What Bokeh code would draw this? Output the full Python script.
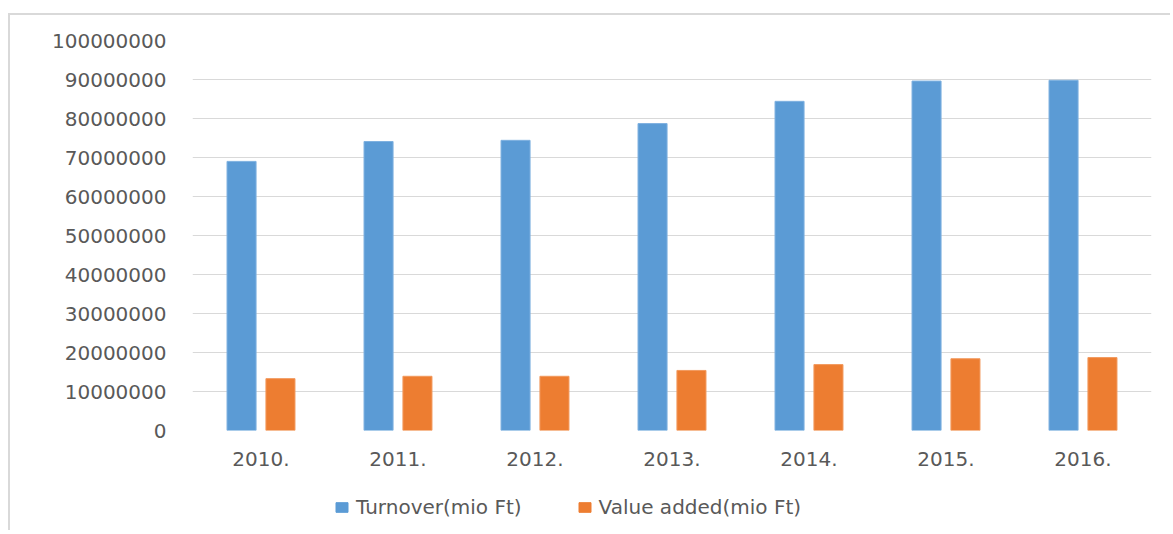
from bokeh.plotting import figure
from bokeh.layouts import column
from bokeh.models import FactorRange, Range1d, FixedTicker, NumeralTickFormatter, Legend, LegendItem, ColumnDataSource
from bokeh.transform import dodge
from bokeh.embed import file_html
from bokeh.resources import INLINE

years = ["2010.", "2011.", "2012.", "2013.", "2014.", "2015.", "2016."]
turnover = [69000000, 74100000, 74400000, 78700000, 84400000, 89600000, 89800000]
value_added = [13300000, 13900000, 13900000, 15400000, 16900000, 18400000, 18700000]
y_ticks = [0, 10000000, 20000000, 30000000, 40000000, 50000000, 60000000, 70000000, 80000000, 90000000, 100000000]
series_names = ["Turnover(mio Ft)", "Value added(mio Ft)"]

src = ColumnDataSource(data=dict(years=years, turnover=turnover, value_added=value_added))

TEXT = "#595959"
FONT = "DejaVu Sans"
BLUE = "#5B9BD5"
ORANGE = "#ED7D31"

p = figure(width=1160, height=455, x_range=FactorRange(*years), y_range=Range1d(0, 100000000),
           output_backend="svg", toolbar_location=None,
           min_border_left=182, min_border_right=19, min_border_top=25, min_border_bottom=40)
p.outline_line_color = None
p.x_range.range_padding = 0
p.x_range.group_padding = 0

p.vbar(x=dodge("years", -0.142, range=p.x_range), top="turnover", width=0.212, source=src,
       fill_color=BLUE, line_color="#7fb1e0", line_width=1)
p.vbar(x=dodge("years", 0.142, range=p.x_range), top="value_added", width=0.212, source=src,
       fill_color=ORANGE, line_color="#f29a5e", line_width=1)

p.yaxis.ticker = FixedTicker(ticks=y_ticks)
p.yaxis.formatter = NumeralTickFormatter(format="0")
for ax in (p.xaxis[0], p.yaxis[0]):
    ax.axis_line_color = None
    ax.major_tick_line_color = None
    ax.minor_tick_line_color = None
    ax.major_tick_out = 0
    ax.major_tick_in = 0
    ax.major_label_text_color = TEXT
    ax.major_label_text_font = FONT
    ax.major_label_text_font_size = "20px"
p.yaxis.major_label_standoff = 26
p.xaxis.major_label_standoff = 21
p.xgrid.grid_line_color = None
p.ygrid.grid_line_color = "#d9d9d9"
p.ygrid.grid_line_width = 1

# legend strip below the chart; its bars lie far outside this strip's y range
p2 = figure(width=1160, height=60, x_range=FactorRange(*years), y_range=Range1d(1e10, 2e10),
            output_backend="svg", toolbar_location=None,
            min_border_left=0, min_border_right=0, min_border_top=0, min_border_bottom=0)
p2.axis.visible = False
p2.grid.grid_line_color = None
p2.outline_line_color = None
l1 = p2.vbar(x=dodge("years", -0.142, range=p2.x_range), top="turnover", width=0.212, source=src,
             fill_color=BLUE, line_color=BLUE)
l2 = p2.vbar(x=dodge("years", 0.142, range=p2.x_range), top="value_added", width=0.212, source=src,
             fill_color=ORANGE, line_color=ORANGE)
legend = Legend(items=[LegendItem(label=series_names[0], renderers=[l1]),
                       LegendItem(label=series_names[1], renderers=[l2])],
                orientation="horizontal", location=(142, 11),
                glyph_width=15, glyph_height=12, label_standoff=7, spacing=55,
                padding=0, margin=0, border_line_color=None, background_fill_alpha=0,
                label_text_color=TEXT, label_text_font=FONT, label_text_font_size="20px")
p2.add_layout(legend, "center")

layout = column(p, p2, spacing=0)
layout.styles = {"margin-top": "13px", "margin-left": "8px",
                 "border-left": "2px solid #d9d9d9", "border-top": "2px solid #d9d9d9"}

open("out.html", "w").write(file_html(layout, INLINE))
